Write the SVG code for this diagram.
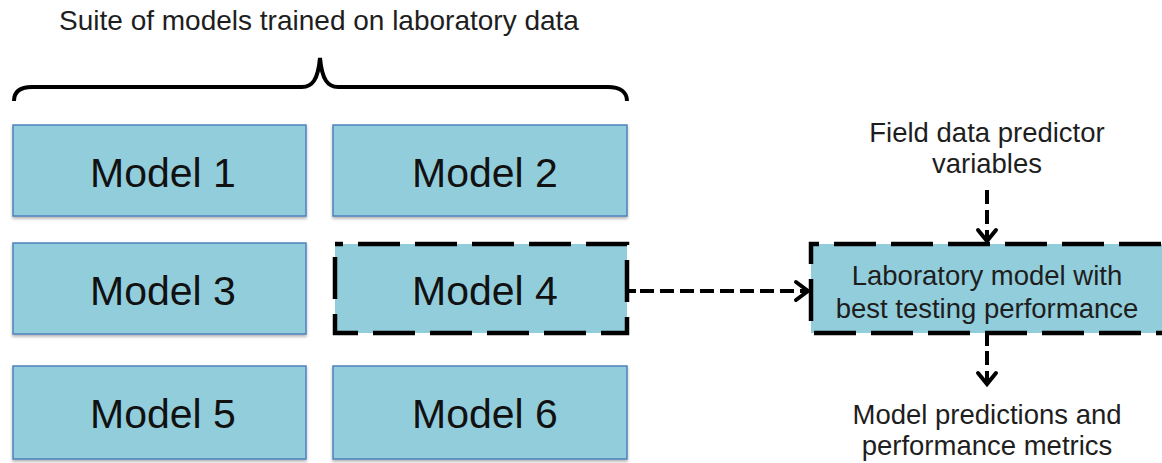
<svg xmlns="http://www.w3.org/2000/svg" width="1162" height="463" viewBox="0 0 1162 463">
<style>
.box{fill:#92cddc;stroke:#4f81bd;stroke-width:1.5}
.dbox{fill:#92cddc;stroke:#000;stroke-width:4.5;stroke-dasharray:42 15;stroke-dashoffset:34}
.t{font-family:"Liberation Sans",Arial,sans-serif;fill:#111;text-anchor:middle}
.big{font-size:41px}
.sm{font-size:27.5px;fill:#1e1e1e}
.conn{fill:none;stroke:#000;stroke-width:4;stroke-dasharray:14 6}
.head{fill:none;stroke:#000;stroke-width:4;stroke-linecap:round;stroke-linejoin:miter}
</style>
<defs>
<filter id="sh" x="-5%" y="-5%" width="110%" height="115%">
<feDropShadow dx="0" dy="2" stdDeviation="1.5" flood-color="#000" flood-opacity="0.3"/>
</filter>
</defs>
<rect width="1162" height="463" fill="#fff"/>
<text class="t sm" x="319" y="30" style="font-size:28px">Suite of models trained on laboratory data</text>
<path d="M14,101 C14,92 20,87 32,87 L302,87 C312,87 318,80 320,58 C322,80 328,87 338,87 L608,87 C620,87 627,92 627,101" fill="none" stroke="#000" stroke-width="4"/>
<g id="model1"><rect class="box" x="13" y="125" width="293" height="91" filter="url(#sh)"/><text class="t big" x="163" y="187">Model 1</text></g>
<g id="model2"><rect class="box" x="333" y="125" width="294" height="91" filter="url(#sh)"/><text class="t big" x="485" y="187">Model 2</text></g>
<g id="model3"><rect class="box" x="13" y="243" width="293" height="91" filter="url(#sh)"/><text class="t big" x="163" y="305">Model 3</text></g>
<g id="model4"><rect class="dbox" x="335" y="244" width="292" height="89"/><text class="t big" x="485" y="305">Model 4</text></g>
<g id="model5"><rect class="box" x="13" y="366" width="293" height="93" filter="url(#sh)"/><text class="t big" x="163" y="428">Model 5</text></g>
<g id="model6"><rect class="box" x="333" y="366" width="294" height="93" filter="url(#sh)"/><text class="t big" x="485" y="428">Model 6</text></g>
<g id="best"><rect class="dbox" x="811" y="244" width="360" height="89"/><text class="t sm" x="987" y="285">Laboratory model with</text><text class="t sm" x="987" y="318">best testing performance</text></g>
<g id="field"><text class="t sm" x="987" y="142">Field data predictor</text><text class="t sm" x="987" y="173">variables</text></g>
<g id="outputs"><text class="t sm" x="987" y="424">Model predictions and</text><text class="t sm" x="987" y="455">performance metrics</text></g>
<g id="connectors">
<path d="M629,291 L636,291" stroke="#000" stroke-width="4"/>
<path class="conn" d="M640,291 L806,291"/>
<path class="head" d="M796,282 L808,291 L796,300"/>
<path class="conn" d="M987,190 L987,240"/>
<path class="head" d="M978,230 L987,241 L996,230"/>
<path d="M987,335 L987,346" stroke="#000" stroke-width="4"/>
<path class="conn" d="M987,351 L987,384"/>
<path class="head" d="M978,373 L987,384 L996,373"/>
</g>
</svg>
